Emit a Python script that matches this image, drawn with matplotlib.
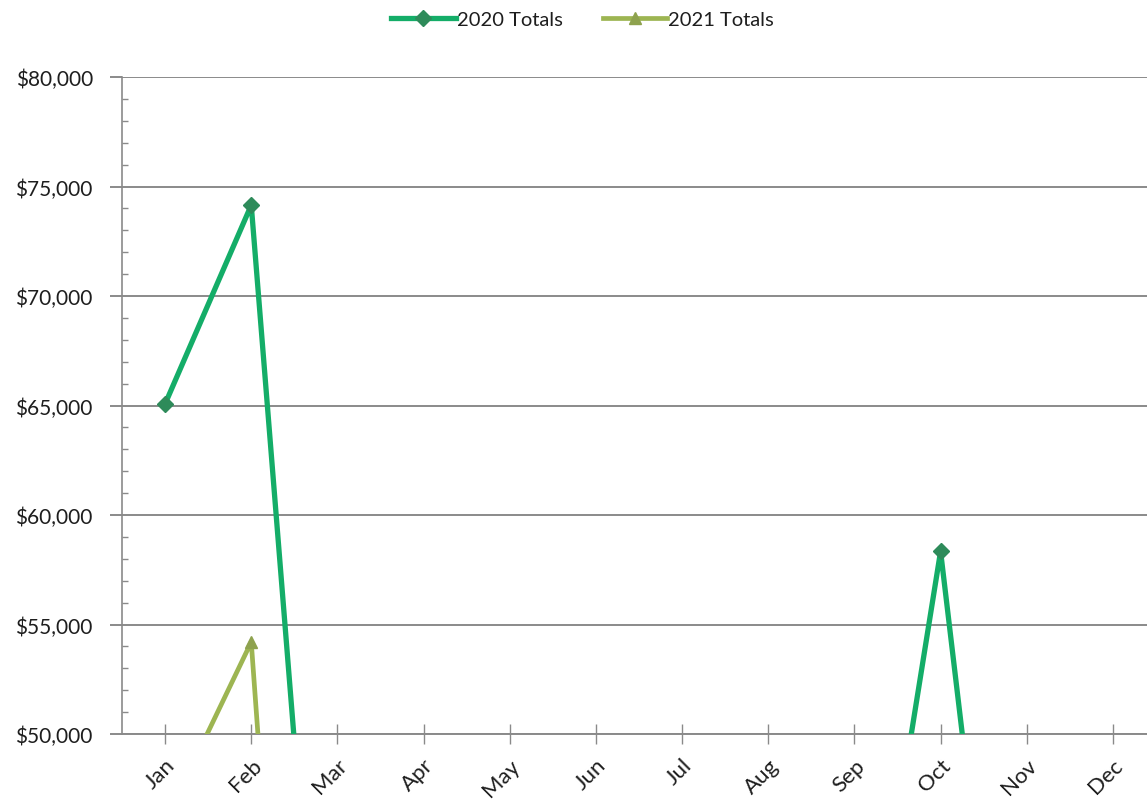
import matplotlib
matplotlib.use("Agg")
import matplotlib.pyplot as plt
import matplotlib.transforms as mtransforms
from matplotlib.ticker import FuncFormatter, MultipleLocator

months = ["Jan", "Feb", "Mar", "Apr", "May", "Jun",
          "Jul", "Aug", "Sep", "Oct", "Nov", "Dec"]
totals_2020 = [65070, 74150, 25200, 31000, 28500, 36000,
               33500, 41000, 33800, 58340, 25200, 30500]
totals_2021 = [46000, 54200, 0, 0, 0, 0, 0, 0, 0, 0, 0, 0]
y_ticks = [50000, 55000, 60000, 65000, 70000, 75000, 80000]

plt.rcParams["font.family"] = ["Lato", "DejaVu Sans"]

fig = plt.figure(figsize=(11.47, 8.03), dpi=100)
ax = fig.add_axes([122 / 1147, 68 / 803, 1034 / 1147, 657 / 803])

x = list(range(len(months)))
grid_c = "#8a8a8a"
text_c = "#1e1e1e"

ax.plot(x, totals_2020, color="#14AD68", lw=3.8, marker="D", ms=8,
        mfc="#2E8B5A", mec="#2E8B5A", label="2020 Totals", zorder=4)
ax.plot(x, totals_2021, color="#9DB552", lw=3.4, marker="^", ms=9,
        mfc="#8EA24E", mec="#8EA24E", label="2021 Totals", zorder=3)

ax.set_xlim(-0.5, 11.5)
ax.set_ylim(y_ticks[0], y_ticks[-1])
ax.set_yticks(y_ticks)
ax.yaxis.set_minor_locator(MultipleLocator(1000))
ax.yaxis.set_major_formatter(FuncFormatter(lambda v, p: f"${v:,.0f}"))
ax.set_xticks(x)
ax.set_xticklabels(months, rotation=45, ha="right", rotation_mode="anchor")
shift = mtransforms.ScaledTranslation(9 / 100, 0, fig.dpi_scale_trans)
for lbl in ax.get_xticklabels():
    lbl.set_transform(lbl.get_transform() + shift)

ax.grid(axis="y", color=grid_c, lw=1.4, zorder=1)
for s in ["top", "right"]:
    ax.spines[s].set_visible(False)
ax.spines["left"].set_color(grid_c)
ax.spines["bottom"].set_color(grid_c)
ax.spines["left"].set_linewidth(1.2)
ax.spines["bottom"].set_linewidth(1.4)

ax.tick_params(axis="y", which="major", direction="out", length=9,
               width=1.4, color=grid_c, labelsize=15, pad=12,
               labelcolor=text_c)
ax.tick_params(axis="y", which="minor", direction="in", length=4,
               width=1, color=grid_c)
ax.tick_params(axis="x", which="major", direction="inout", length=14,
               width=1, color=grid_c, labelsize=16, pad=8,
               labelcolor=text_c)

leg = fig.legend(loc="upper center", bbox_to_anchor=(0.508, 1.008), ncol=2,
                 frameon=False, fontsize=14.5, handlelength=3.2,
                 columnspacing=2.0, handletextpad=0.05,
                 labelcolor=text_c)

fig.savefig("out.png", dpi=100)
